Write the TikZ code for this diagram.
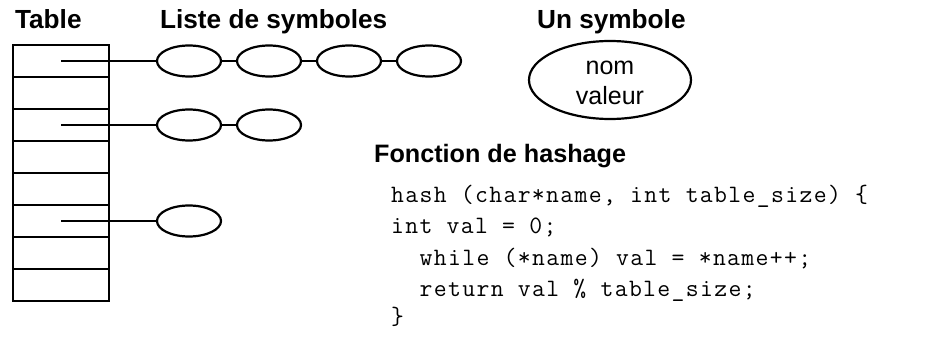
\documentclass[tikz,border=0pt]{standalone}
\usepackage{fontspec}
\setmainfont{Liberation Sans}
\setmonofont[LetterSpace=5.4]{Latin Modern Mono}
\usetikzlibrary{shapes.geometric}
\begin{document}
\begin{tikzpicture}[x=1pt,y=-1pt,line width=2.2pt,
  cell/.style={draw,rectangle,minimum width=96pt,minimum height=32pt,inner sep=0pt,outer sep=0pt},
  sym/.style={draw,ellipse,minimum width=64pt,minimum height=31pt,inner sep=0pt,outer sep=0pt},
  bigsym/.style={draw,ellipse,minimum width=162pt,minimum height=78pt,inner sep=0pt,outer sep=0pt},
  ttl/.style={anchor=base west,inner sep=0pt,font=\fontsize{26.2}{30}\selectfont\bfseries},
  lbl/.style={anchor=base,inner sep=0pt,font=\fontsize{25}{30}\selectfont},
  code/.style={anchor=base west,inner sep=0pt,font=\fontsize{25}{28}\selectfont\ttfamily},
  link/.style={line width=2.2pt}]
\useasboundingbox[fill=white] (0,0) rectangle (943,337);
% titles
\node[ttl] (tTable) at (14,29) {Table};
\node[ttl] (tListe) at (159,29) {Liste de symboles};
\node[ttl] (tUn) at (536,29) {Un symbole};
\node[ttl,font=\fontsize{25.2}{30}\selectfont\bfseries] (tFonc) at (373,162) {Fonction de hashage};
% table cells
\foreach \i in {1,...,8} \node[cell] (c\i) at (61,{29+32*\i}) {};
% symbol lists
\node[sym] (s11) at (189,61) {};
\node[sym] (s12) at (269,61) {};
\node[sym] (s13) at (349,61) {};
\node[sym] (s14) at (429,61) {};
\node[sym] (s21) at (189,125) {};
\node[sym] (s22) at (269,125) {};
\node[sym] (s31) at (189,221) {};
\draw[link] (c1.center) -- (s11.west);
\draw[link] (s11) -- (s12);
\draw[link] (s12) -- (s13);
\draw[link] (s13) -- (s14);
\draw[link] (c3.center) -- (s21.west);
\draw[link] (s21) -- (s22);
\draw[link] (c6.center) -- (s31.west);
% one symbol
\node[bigsym] (sym) at (610,80) {};
\node[lbl] (nom) at (610,75) {nom};
\node[lbl] (val) at (610,105) {valeur};
% code
\node[code] (l1) at (390,202) {hash (char*name, int table\_size) \{};
\node[code] (l2) at (390,233.5) {int val = 0;};
\node[code] (l3) at (418.6,265) {while (*name) val = *name++;};
\node[code] (l4) at (418.6,296.5) {return val \% table\_size;};
\node[code] (l5) at (390,324) {\}};
\end{tikzpicture}
\end{document}
